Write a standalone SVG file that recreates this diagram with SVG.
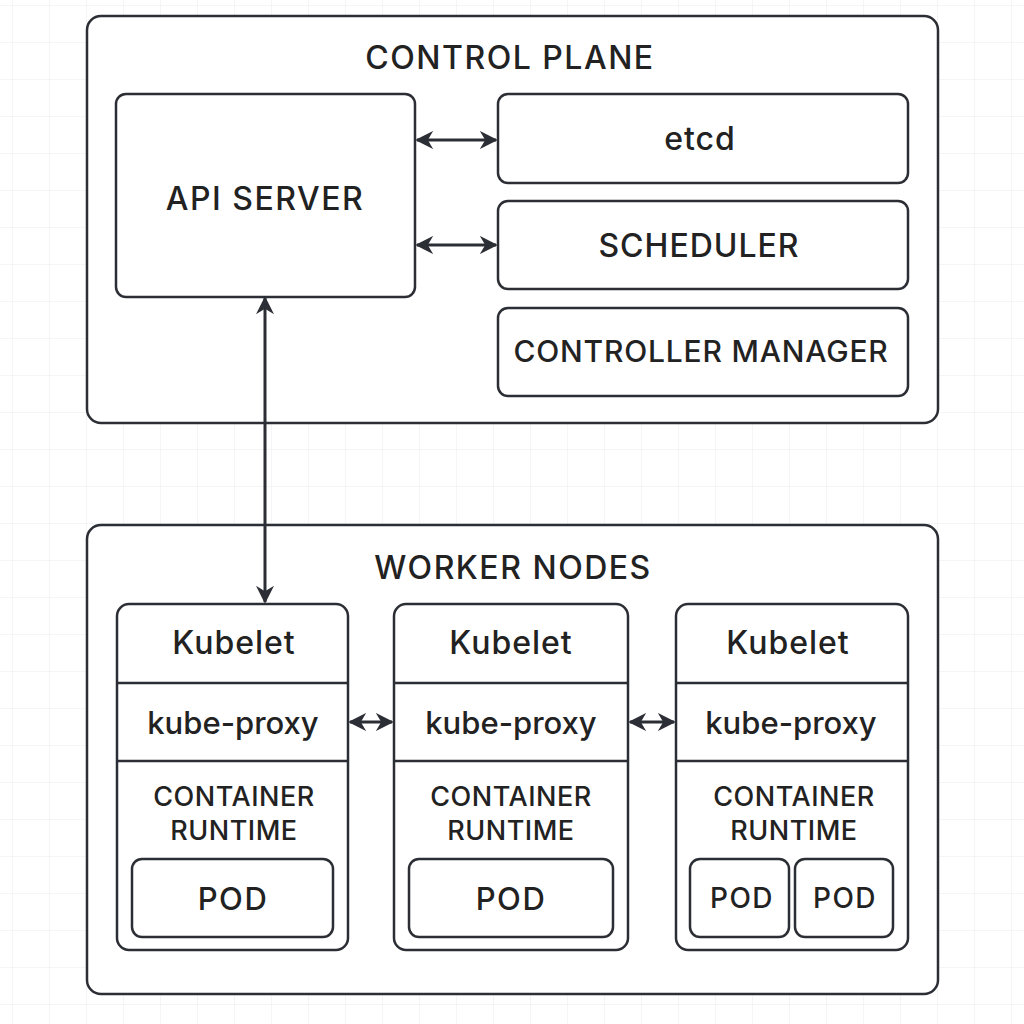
<svg xmlns="http://www.w3.org/2000/svg" width="1024" height="1024" viewBox="0 0 1024 1024">
<defs>
<pattern id="grid" width="37" height="37" patternUnits="userSpaceOnUse" x="12" y="5">
<path d="M0 0H37M0 0V37" fill="none" stroke="#ececec" stroke-width="1"/>
</pattern>
<marker id="ahb" viewBox="0 0 10 10" refX="9" refY="5" markerWidth="18" markerHeight="18" markerUnits="userSpaceOnUse" orient="auto-start-reverse">
<path d="M0 0L10 5L0 10L3 5Z" fill="#2b2e34"/>
</marker>
</defs>
<style>
.box{fill:#fff;stroke:#2b2e34;stroke-width:2.5}
.line{stroke:#2b2e34;stroke-width:2.5;fill:none}
.conn{stroke:#2b2e34;stroke-width:3;fill:none;marker-start:url(#ahb);marker-end:url(#ahb)}
text{font-family:Inter,"Noto Sans",sans-serif;font-weight:500;fill:#222;text-anchor:middle;dominant-baseline:central}
.title{font-size:32px;letter-spacing:1.5px}
.big{font-size:32px;letter-spacing:1px}
.cm{font-size:30px;letter-spacing:0.8px}
.kub{font-size:32px;letter-spacing:1px}
.kp{font-size:31px}
.cr{font-size:27px;letter-spacing:0.5px}
.pod{font-size:31px;letter-spacing:1.5px}
.pods{font-size:28px;letter-spacing:1.5px}
</style>
<rect width="1024" height="1024" fill="#fff"/>
<rect width="1024" height="1024" fill="url(#grid)"/>

<g id="control-plane">
<rect class="box" x="87" y="16" width="851" height="407" rx="14"/>
<text class="title" x="510" y="57">CONTROL PLANE</text>
</g>
<g id="api-server">
<rect class="box" x="116" y="94" width="299" height="203" rx="10"/>
<text class="big" x="265" y="198" style="letter-spacing:1.5px">API SERVER</text>
</g>
<g id="etcd">
<rect class="box" x="498" y="94" width="410" height="89" rx="10"/>
<text class="big" x="700" y="138">etcd</text>
</g>
<g id="scheduler">
<rect class="box" x="498" y="201" width="410" height="88" rx="10"/>
<text class="big" x="699" y="245">SCHEDULER</text>
</g>
<g id="controller-manager">
<rect class="box" x="498" y="308" width="410" height="88" rx="10"/>
<text class="cm" x="701" y="351">CONTROLLER MANAGER</text>
</g>

<g id="worker-nodes">
<rect class="box" x="87" y="525" width="851" height="469" rx="14"/>
<text class="title" x="513" y="567">WORKER NODES</text>
</g>

<g id="node1">
<rect class="box" x="117" y="604" width="231" height="346" rx="12"/>
<path class="line" d="M117 683H348M117 761H348"/>
<text class="kub" x="234" y="642">Kubelet</text>
<text class="kp" x="233" y="722">kube-proxy</text>
<text class="cr" x="234" y="796">CONTAINER</text>
<text class="cr" x="234" y="830">RUNTIME</text>
<rect class="box" x="132" y="859" width="201" height="78" rx="10"/>
<text class="pod" x="233" y="898">POD</text>
</g>
<g id="node2">
<rect class="box" x="394" y="604" width="234" height="346" rx="12"/>
<path class="line" d="M394 683H628M394 761H628"/>
<text class="kub" x="511" y="642">Kubelet</text>
<text class="kp" x="511" y="722">kube-proxy</text>
<text class="cr" x="511" y="796">CONTAINER</text>
<text class="cr" x="511" y="830">RUNTIME</text>
<rect class="box" x="409" y="859" width="204" height="78" rx="10"/>
<text class="pod" x="511" y="898">POD</text>
</g>
<g id="node3">
<rect class="box" x="676" y="604" width="232" height="346" rx="12"/>
<path class="line" d="M676 683H908M676 761H908"/>
<text class="kub" x="788" y="642">Kubelet</text>
<text class="kp" x="791" y="722">kube-proxy</text>
<text class="cr" x="794" y="796">CONTAINER</text>
<text class="cr" x="794" y="830">RUNTIME</text>
<rect class="box" x="690" y="859" width="99" height="78" rx="10"/>
<text class="pods" x="742" y="898">POD</text>
<rect class="box" x="795" y="859" width="98" height="78" rx="10"/>
<text class="pods" x="845" y="898">POD</text>
</g>

<g id="connectors">
<line class="conn" x1="417" y1="140" x2="496" y2="140"/>
<line class="conn" x1="417" y1="245" x2="496" y2="245"/>
<line class="conn" x1="265" y1="298" x2="265" y2="602"/>
<line class="conn" x1="350" y1="722" x2="392" y2="722"/>
<line class="conn" x1="630" y1="722" x2="674" y2="722"/>
</g>
</svg>
